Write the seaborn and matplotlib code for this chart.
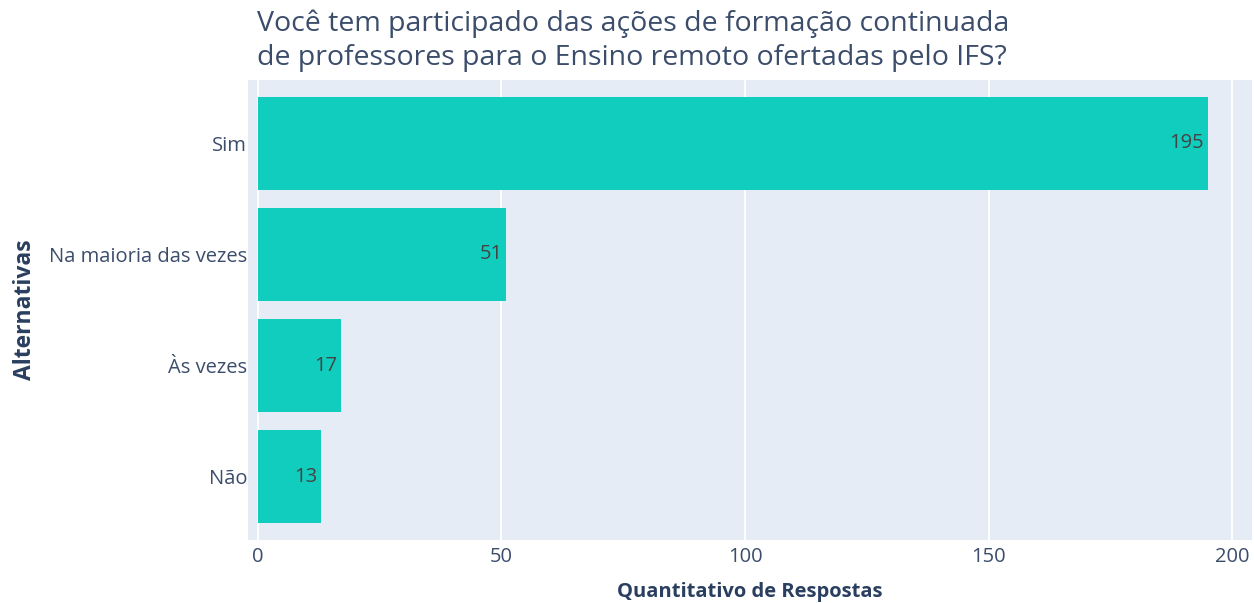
import matplotlib
matplotlib.use("Agg")
import matplotlib.pyplot as plt
import seaborn as sns
import pandas as pd

categories = ["Sim", "Na maioria das vezes", "Às vezes", "Não"]
values = [195, 51, 17, 13]
xticks = [0, 50, 100, 150, 200]

df = pd.DataFrame({"Alternativas": categories, "Quantitativo de Respostas": values})

sns.set_theme(style="darkgrid")
plt.rcParams["font.family"] = ["Open Sans", "DejaVu Sans"]

fig = plt.figure(figsize=(12.54, 6.03), dpi=100)
ax = fig.add_axes([248/1254, 1-540/603, (1252-248)/1254, (540-80)/603])
ax.set_facecolor("#E5ECF6")

sns.barplot(data=df, y="Alternativas", x="Quantitativo de Respostas", order=categories,
            color="#10CDBD", saturation=1, width=0.84, ax=ax, edgecolor="#10CDBD", linewidth=0)

ax.set_xlim(-2.05, 204.1)
ax.set_ylim(3.57, -0.57)
ax.set_xticks(xticks)
ax.set_xticklabels([str(t) for t in xticks])
ax.grid(axis="x", color="white", linewidth=1.3)
ax.grid(axis="y", visible=False)
for s in ax.spines.values():
    s.set_visible(False)
ax.tick_params(axis="both", length=0, labelsize=14.5)
ax.tick_params(axis="x", pad=5)
ax.tick_params(axis="y", pad=0.5)
for lab in ax.get_xticklabels() + ax.get_yticklabels():
    lab.set_color("#3b4d6b")

for i, v in enumerate(values):
    ax.text(v - 0.8, i, str(v), ha="right", va="center", fontsize=14.5, color="#444444")

ax.set_xlabel("Quantitativo de Respostas", fontsize=14.5, fontweight="bold", color="#2a3f5f")
ax.xaxis.set_label_coords(0.5, -0.113)
ax.xaxis.label.set_va("center")
ax.set_ylabel("Alternativas", fontsize=16.5, fontweight="bold", color="#2a3f5f")
ax.yaxis.set_label_coords(-0.222, 0.5)
ax.yaxis.label.set_va("center")

fig.text(257/1254, 1-9/603, "Você tem participado das ações de formação continuada\nde professores para o Ensino remoto ofertadas pelo IFS?",
         ha="left", va="top", fontsize=20.5, color="#3b4d6b", linespacing=1.32)
fig.savefig("out.png", dpi=100)
